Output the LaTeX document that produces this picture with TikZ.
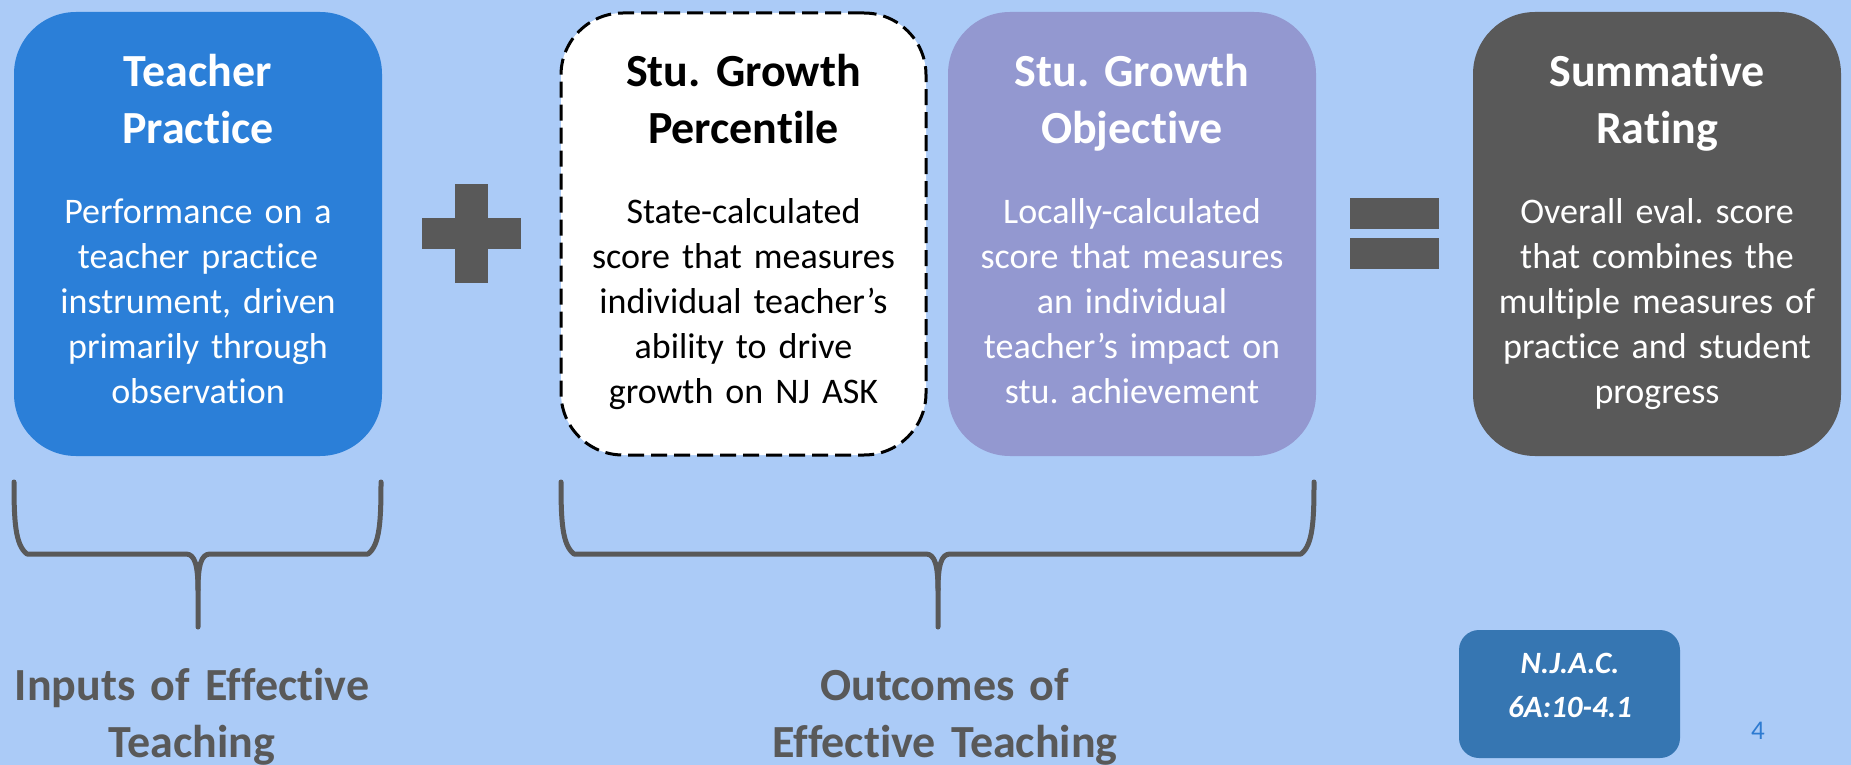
\documentclass[tikz,border=0pt]{standalone}
\usepackage{fontspec}
\setmainfont{Carlito}[Ligatures=NoCommon]
\definecolor{bg}{RGB}{171,203,247}
\definecolor{tpblue}{RGB}{43,127,216}
\definecolor{lav}{RGB}{147,152,208}
\definecolor{dgray}{RGB}{89,89,89}
\definecolor{njac}{RGB}{54,118,178}
\definecolor{pnum}{RGB}{46,123,209}
\frenchspacing
\begin{document}
\begin{tikzpicture}[x=1pt,y=-1pt,
  box/.style={rectangle, rounded corners=62pt, draw=none, minimum width=368pt, minimum height=444pt, inner sep=0pt},
  ttl/.style={anchor=base, text width=360pt, align=center, inner sep=0pt, font=\fontsize{46}{57}\selectfont\bfseries},
  bdy/.style={anchor=base, text width=360pt, align=center, inner sep=0pt, font=\fontsize{36}{45}\selectfont},
  lbl/.style={anchor=base, text width=420pt, align=center, inner sep=0pt, text=dgray, font=\fontsize{46}{57}\selectfont\bfseries},
  bracel/.style={draw=dgray, line width=5pt, line cap=round, line join=round},
  sym/.style={fill=dgray}
]
\useasboundingbox (0,0) rectangle (1851,765);
\fill[bg] (0,0) rectangle (1851,765);

% boxes
\node[box, fill=tpblue] (tp) at (198,234) {};
\node[box, fill=white, draw=black, line width=3pt, dash pattern=on 16pt off 7pt, minimum width=365pt, minimum height=442pt] (sgp) at (743.5,234) {};
\node[box, fill=lav] (sgo) at (1132,234) {};
\node[box, fill=dgray] (sr) at (1657,234) {};

% titles
\node[ttl, text=white] (tpt) at (198,87) {Teacher\\Practice};
\node[ttl, text=black] (sgpt) at (743.5,87) {Stu. Growth\\Percentile};
\node[ttl, text=white] (sgot) at (1132,87) {Stu. Growth\\Objective};
\node[ttl, text=white] (srt) at (1657,87) {Summative\\Rating};

% bodies
\node[bdy, text=white] (tpb) at (198,223) {Performance on a\\teacher practice\\instrument, driven\\primarily through\\observation};
\node[bdy, text=black] (sgpb) at (743.5,223) {State-calculated\\score that measures\\individual teacher’s\\ability to drive\\growth on NJ ASK};
\node[bdy, text=white] (sgob) at (1132,223) {Locally-calculated\\score that measures\\an individual\\teacher’s impact on\\stu. achievement};
\node[bdy, text=white] (srb) at (1657,223) {Overall eval. score\\that combines the\\multiple measures of\\practice and student\\progress};

% plus
\fill[sym] (422,218) rectangle (521,249);
\fill[sym] (455,184) rectangle (488,283);
% equals
\fill[sym] (1350,198) rectangle (1439,229);
\fill[sym] (1350,238) rectangle (1439,269);

% braces
\draw[bracel] (14,482) .. controls (14,520) and (15,545) .. (27,554) -- (186,554) .. controls (195,554) and (198,566) .. (198,590) -- (198,627);
\draw[bracel] (381,482) .. controls (381,520) and (380,545) .. (368,554) -- (210,554) .. controls (201,554) and (198,566) .. (198,590);
\draw[bracel] (561,482) .. controls (561,520) and (562,545) .. (574,554) -- (926,554) .. controls (935,554) and (938,566) .. (938,590) -- (938,627);
\draw[bracel] (1314,482) .. controls (1314,520) and (1313,545) .. (1301,554) -- (950,554) .. controls (941,554) and (938,566) .. (938,590);

% labels
\node[lbl] (inp) at (192,700) {Inputs of Effective\\Teaching};
\node[lbl] (out) at (945,700) {Outcomes of\\Effective Teaching};

% NJAC box
\node[rectangle, rounded corners=20pt, fill=njac, minimum width=221pt, minimum height=128pt, inner sep=0pt] (nj) at (1569.5,694) {};
\node[anchor=base, text width=220pt, align=center, inner sep=0pt, text=white, font=\fontsize{31}{44}\selectfont\bfseries\itshape] (njt) at (1570,673) {N.J.A.C.\\6A:10-4.1};

% page number
\node[anchor=base, inner sep=0pt, text=pnum, font=\fontsize{27}{32}\selectfont] (pg) at (1758,739) {4};
\end{tikzpicture}
\end{document}
